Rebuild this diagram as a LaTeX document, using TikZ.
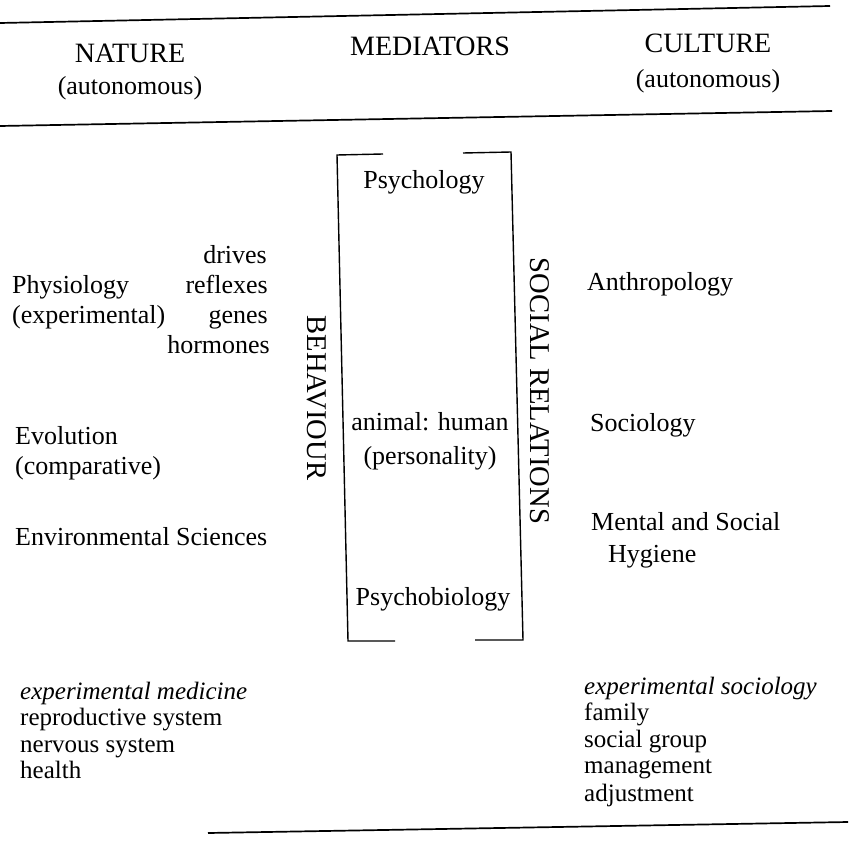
\documentclass[tikz,border=0pt]{standalone}
\usepackage{fontspec}
\setmainfont{Liberation Serif}
\begin{document}
\begin{tikzpicture}[x=1pt,y=-1pt,
  txt/.style={inner sep=0pt, font=\fontsize{26}{30}\selectfont},
  low/.style={inner sep=0pt, font=\fontsize{25}{27}\selectfont},
  capsx/.style={inner sep=0pt, font=\fontsize{28}{32}\selectfont},
  capsv/.style={inner sep=0pt, font=\fontsize{28.6}{32}\selectfont, rotate=-90},
  rulex/.style={line width=1.7pt},
  boxline/.style={line width=1.4pt, line join=miter}]
\useasboundingbox (0,0) rectangle (848,850);
% horizontal rules
\coordinate (t1) at (0,23);
\coordinate (t2) at (830,6);
\coordinate (h1) at (0,126);
\coordinate (h2) at (832,111);
\coordinate (b1) at (208,833);
\coordinate (b2) at (848,822);
\draw[rulex] (t1) -- (t2);
\draw[rulex] (h1) -- (h2);
\draw[rulex] (b1) -- (b2);
% header
\node[capsx,anchor=base] (nat) at (130,63) {NATURE};
\node[txt,anchor=base] (natA) at (130,95) {(autonomous)};
\node[capsx,anchor=base] (med) at (430,56) {MEDIATORS};
\node[capsx,anchor=base] (cul) at (708,53) {CULTURE};
\node[txt,anchor=base] (culA) at (708,88) {(autonomous)};
% mediator box
\coordinate (tl1) at (383,154);
\coordinate (tl) at (337,155);
\coordinate (bl) at (348,641);
\coordinate (bl1) at (395,641);
\coordinate (tr1) at (463,153);
\coordinate (tr) at (511,152);
\coordinate (br) at (523,640);
\coordinate (br1) at (475,640);
\draw[boxline] (tl1) -- (tl) -- (bl) -- (bl1);
\draw[boxline] (tr1) -- (tr) -- (br) -- (br1);
\node[txt,anchor=base] (psy) at (424,189) {Psychology};
\node[txt,anchor=base] (anh) at (430,430) {animal: human};
\node[txt,anchor=base] (pers) at (430,464) {(personality)};
\node[txt,anchor=base] (psybio) at (433,605) {Psychobiology};
\node[capsv] (beh) at (317,398) {BEHAVIOUR};
\node[capsv] (soc) at (540,391) {SOCIAL RELATIONS};
% left column
\node[txt,anchor=base east] (drv) at (267,263) {drives};
\node[txt,anchor=base east] (rfx) at (268,293) {reflexes};
\node[txt,anchor=base east] (gen) at (268,323) {genes};
\node[txt,anchor=base east] (hor) at (270,353) {hormones};
\node[txt,anchor=base west] (phy) at (12,293) {Physiology};
\node[txt,anchor=base west] (phyE) at (12,323) {(experimental)};
\node[txt,anchor=base west] (evo) at (15,444) {Evolution};
\node[txt,anchor=base west] (evoC) at (15,474) {(comparative)};
\node[txt,anchor=base west] (env) at (15,545) {Environmental Sciences};
% right column
\node[txt,anchor=base west] (ant) at (587,290) {Anthropology};
\node[txt,anchor=base west] (soci) at (590,431) {Sociology};
\node[txt,anchor=base west] (msh) at (591,530) {Mental and Social};
\node[txt,anchor=base west] (hyg) at (608,562) {Hygiene};
% lower left
\node[low,anchor=base west] (expm) at (20,699) {\itshape experimental medicine};
\node[low,anchor=base west] (rep) at (20,725) {reproductive system};
\node[low,anchor=base west] (nerv) at (20,752) {nervous system};
\node[low,anchor=base west] (hea) at (20,778) {health};
% lower right
\node[low,anchor=base west] (exps) at (584,694) {\itshape experimental sociology};
\node[low,anchor=base west] (fam) at (584,720) {family};
\node[low,anchor=base west] (sgr) at (584,747) {social group};
\node[low,anchor=base west] (man) at (584,773) {management};
\node[low,anchor=base west] (adj) at (584,801) {adjustment};
\end{tikzpicture}
\end{document}
